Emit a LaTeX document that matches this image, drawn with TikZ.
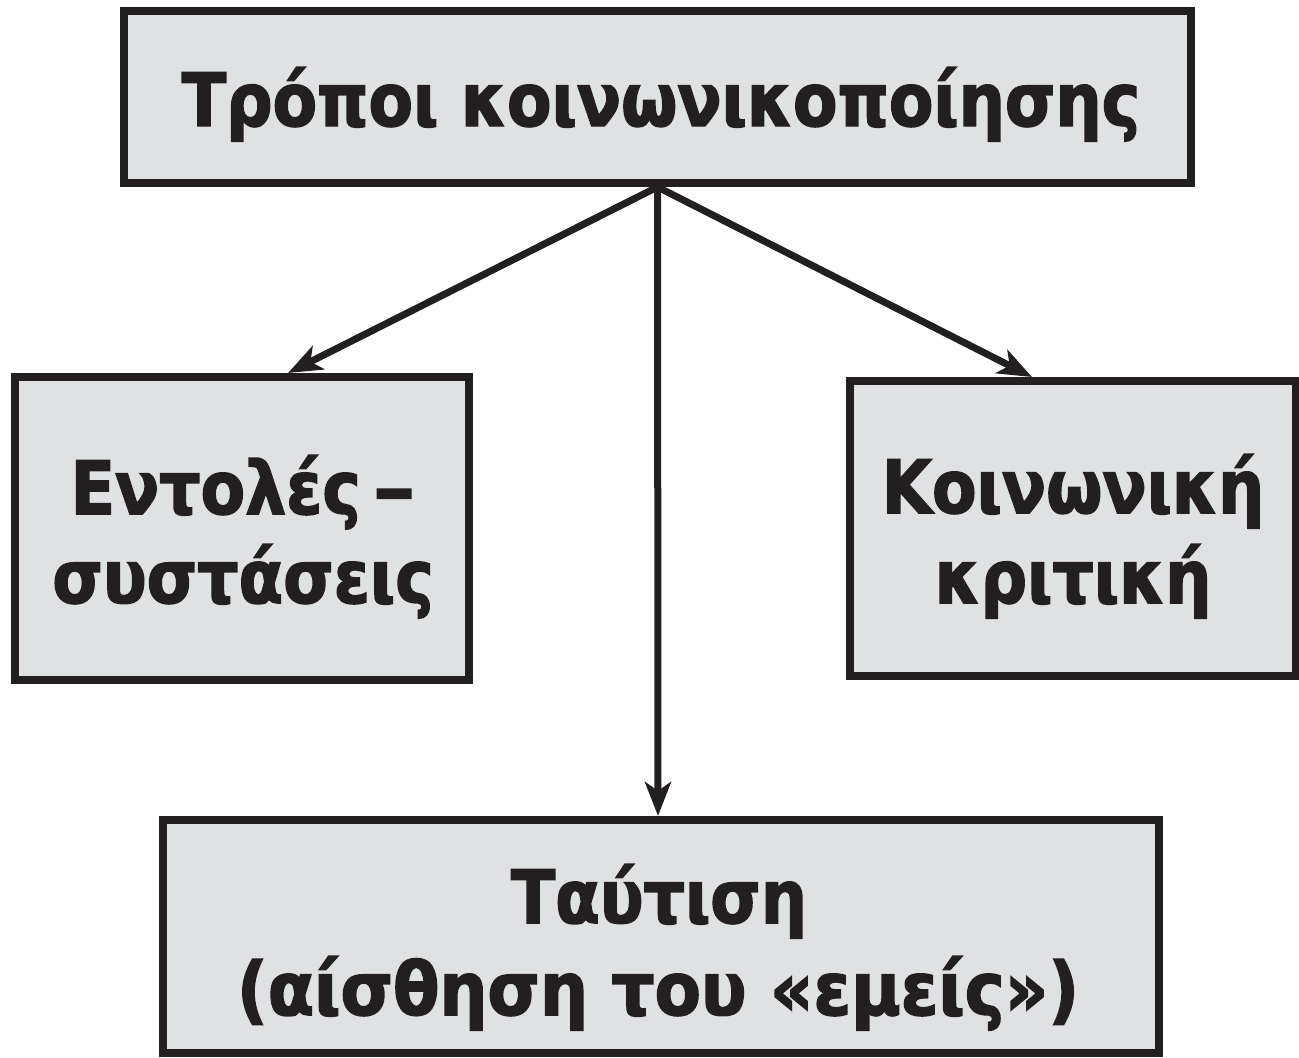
\documentclass[tikz,border=0pt]{standalone}
\usepackage{fontspec}
\newfontfamily\boxfont[FakeStretch=0.88,FakeBold=2]{DejaVu Sans}
\usetikzlibrary{arrows.meta}
\definecolor{ink}{HTML}{231F20}
\definecolor{boxfill}{HTML}{E0E1E3}
\begin{document}
\begin{tikzpicture}[x=1bp,y=-1bp,
  box/.style={draw=ink, fill=boxfill, line width=8bp, inner sep=0pt, rectangle},
  txt/.style={font=\fontsize{74}{80}\boxfont\bfseries, text=ink, inner sep=0pt, anchor=base},
  conn/.style={draw=ink, line width=7bp, -{Stealth[length=34bp,width=26bp,inset=9bp]}}]
\useasboundingbox (0,0) rectangle (1299,1057);
\node[box, minimum width=1067bp, minimum height=172bp] (top) at (657.5,97) {};
\node[box, minimum width=454bp, minimum height=303bp] (lbox) at (242,528.5) {};
\node[box, minimum width=446bp, minimum height=295bp] (rbox) at (1073,528.5) {};
\node[box, minimum width=996bp, minimum height=233bp] (bbox) at (661,936.5) {};
\node[txt] (t1) at (661,126) {Τρόποι κοινωνικοποίησης};
\node[txt] (l1) at (243,514) {Εντολές\,\scalebox{1.3}[1]{–}};
\node[txt] (l2) at (243,603) {συστάσεις};
\node[txt] (r1) at (1073,513) {Κοινωνική};
\node[txt] (r2) at (1073,603) {κριτική};
\node[txt] (b1) at (659,923) {Ταύτιση};
\node[txt] (b2) at (658,1015) {\scalebox{1.04}[1]{(αίσθηση του «εμείς»)}};
\draw[conn] (top.south) -- ([xshift=46bp]lbox.north);
\draw[conn] (top.south) -- ([xshift=-41bp]rbox.north);
\draw[conn] (top.south) -- ([xshift=-3bp]bbox.north);
\end{tikzpicture}
\end{document}
